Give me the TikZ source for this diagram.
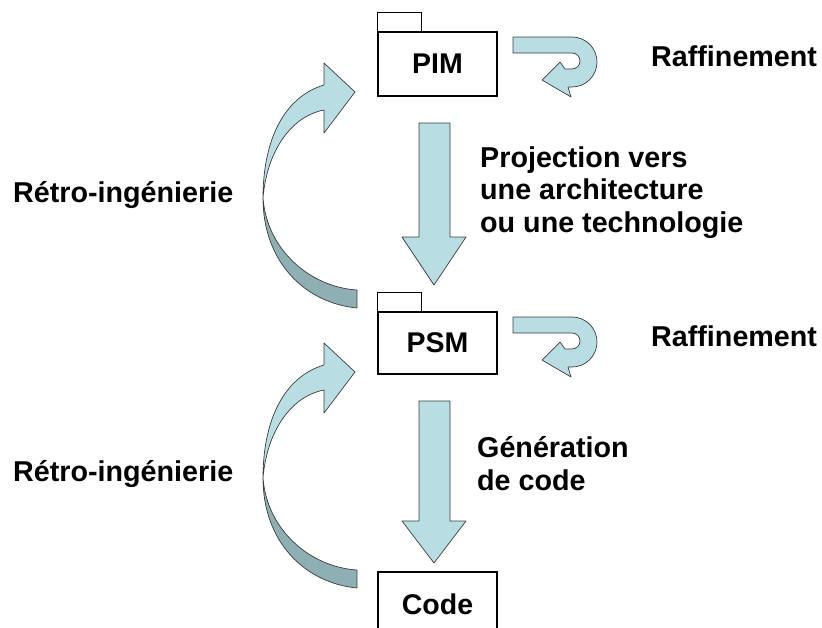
\documentclass[tikz,border=0pt]{standalone}
\usepackage{fontspec}
\setmainfont{Liberation Sans}
\definecolor{arrlight}{RGB}{184,222,227}
\definecolor{arrdark}{RGB}{143,176,178}
\definecolor{arredge}{RGB}{60,60,60}
\begin{document}
\begin{tikzpicture}[x=1pt,y=-1pt,
  lbl/.style={font=\fontsize{28.7}{32.5}\selectfont\bfseries, inner sep=0pt, align=left},
  pkg/.style={draw=black, line width=1.1pt, fill=white, minimum width=119pt,
              inner sep=0pt, font=\fontsize{28.5}{32}\selectfont\bfseries},
  band/.style={draw=arredge, line width=0.7pt, fill=arrlight, line join=round},
  shadeband/.style={band, fill=arrdark}]
\useasboundingbox (0,0) rectangle (822,627);
\clip (0,0) rectangle (822,627);

% package boxes
\node[pkg, minimum height=64pt] (pim) at (437.5,64) {PIM};
\draw[line width=1.1pt] (pim.north west) rectangle ++(44,-19);
\node[pkg, minimum height=62pt] (psm) at (437.5,343) {PSM};
\draw[line width=1.1pt] (psm.north west) rectangle ++(44,-19);
\node[pkg, minimum height=64pt] (code) at (437.5,604) {Code};

% straight down arrows
\draw[band] (419,123) -- (450,123) -- (450,237) -- (466,237) -- (434,285)
  -- (402,237) -- (419,237) -- cycle;
\draw[band] (419,401) -- (450,401) -- (450,521) -- (466,521) -- (434,563)
  -- (402,521) -- (419,521) -- cycle;

% refinement U-turn arrows
\foreach \dy in {0,280}{
\begin{scope}[shift={(0,\dy)}]
\draw[band] (513,37) -- (572,37) arc[start angle=-90, end angle=90, radius=25]
  -- (568,87) -- (571,97) -- (542,80) -- (560,62) -- (565,69) -- (572,69)
  arc[start angle=90, end angle=-90, radius=8] -- (513,53) -- cycle;
\end{scope}
}

% reverse-engineering curved arrows
\foreach \dy in {0,280}{
\begin{scope}[shift={(0,\dy)}]
\draw[shadeband] (263,198) .. controls (263,262) and (305,303) .. (357,308)
  -- (357,290) .. controls (310,287) and (267,250) .. (263,198) -- cycle;
\draw[band] (324,85) .. controls (284,97) and (263,140) .. (263,198)
  .. controls (267,150) and (292,116) .. (324,110)
  -- (324,133) -- (355,92) -- (324,63) -- cycle;
\end{scope}
}

% labels
\node[lbl, anchor=base west] (raf1) at (651,66) {Raffinement};
\node[lbl, anchor=base west] (raf2) at (651,346) {Raffinement};
\node[lbl, anchor=base west] (retro1) at (13,202) {Rétro-ingénierie};
\node[lbl, anchor=base west] (retro2) at (13,481) {Rétro-ingénierie};
\node[lbl, anchor=base west] (proj) at (480,232) {Projection vers\\une architecture\\ou une technologie};
\node[lbl, anchor=base west] (gen) at (477,490) {Génération\\de code};
\end{tikzpicture}
\end{document}
